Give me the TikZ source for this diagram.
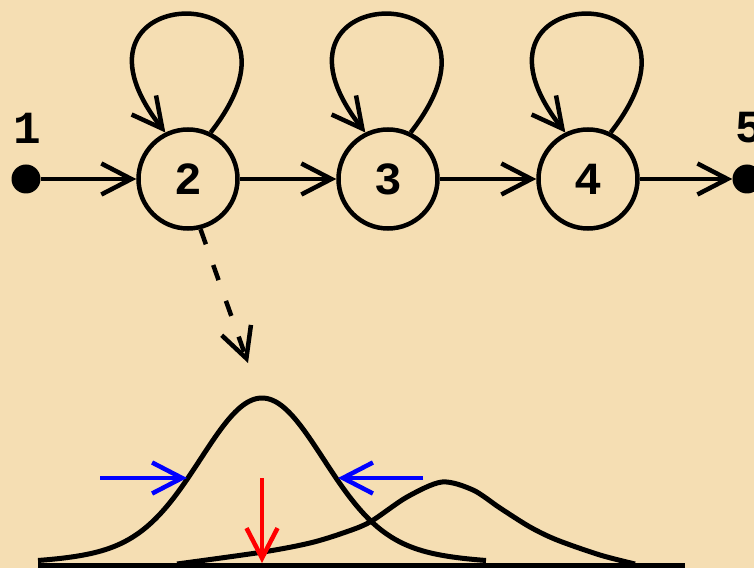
\documentclass[tikz,border=0pt]{standalone}
\usepackage{fontspec}
\setmonofont{Liberation Mono}
\usetikzlibrary{arrows.meta}
\definecolor{paper}{RGB}{245,222,179}
\definecolor{ink}{RGB}{0,0,0}
\definecolor{squeeze}{RGB}{0,0,255}
\definecolor{meanshift}{RGB}{255,0,0}

\begin{document}
\begin{tikzpicture}[x=1pt,y=1pt,
  state/.style={circle,draw=ink,line width=4.5pt,minimum size=99pt,inner sep=0pt,
    font=\ttfamily\bfseries\fontsize{46}{46}\selectfont},
  terminal/.style={circle,fill=ink,minimum size=29pt,inner sep=0pt},
  tag/.style={text=ink,font=\ttfamily\bfseries\fontsize{46}{46}\selectfont},
  barb/.style={-{Straight Barb[length=30pt,width=31pt]}},
  edge/.style={draw=ink,line width=4.5pt,barb},
  density/.style={draw=ink,line width=5pt,line join=round}]
\useasboundingbox (0,0) rectangle (754,568);
\fill[paper] (0,0) rectangle (754,568);
% chain of states
\node[terminal] (d1) at (26,389) {};
\node[state] (n2) at (188,389) {2};
\node[state] (n3) at (388,389) {3};
\node[state] (n4) at (588,389) {4};
\node[terminal] (d5) at (747,389) {};
\node[tag] at (27,440) {1};
\node[tag] at (749,440) {5};
\draw[edge] (d1) -- (n2);
\draw[edge] (n2) -- (n3);
\draw[edge] (n3) -- (n4);
\draw[edge] (n4) -- (d5);
\foreach \n in {n2,n3,n4}
  \draw[edge] (\n.64) .. controls +(52:200) and +(128:200) .. (\n.116);
% output densities
\coordinate (peak) at (248,205);
\draw[edge,dash pattern=on 16pt off 22pt] (n2.-76) -- (peak);
\draw[ink,line width=5pt] (38,2.5) -- (685,2.5);
\draw[density] plot[domain=38:486,samples=120,smooth]
  (\x,{3+167*(0.85*exp(-0.5*((\x-262)/60)^2)+0.15*exp(-0.5*((\x-262)/120)^2))});
\draw[density] plot[smooth] coordinates {(177,4) (263,16) (310,25) (343,35) (370,46)
  (407,71) (442,86) (473,78) (500,60) (530,41) (557,28) (600,13) (635,4)};
\coordinate (wl) at (100,90);
\coordinate (wl') at (187,90);
\coordinate (wr) at (423,90);
\coordinate (wr') at (338,90);
\coordinate (mu) at (262,90);
\coordinate (mu') at (262,5);
\draw[squeeze,line width=4.5pt,barb] (wl) -- (wl');
\draw[squeeze,line width=4.5pt,barb] (wr) -- (wr');
\draw[meanshift,line width=4.5pt,barb] (mu) -- (mu');
\end{tikzpicture}
\end{document}
